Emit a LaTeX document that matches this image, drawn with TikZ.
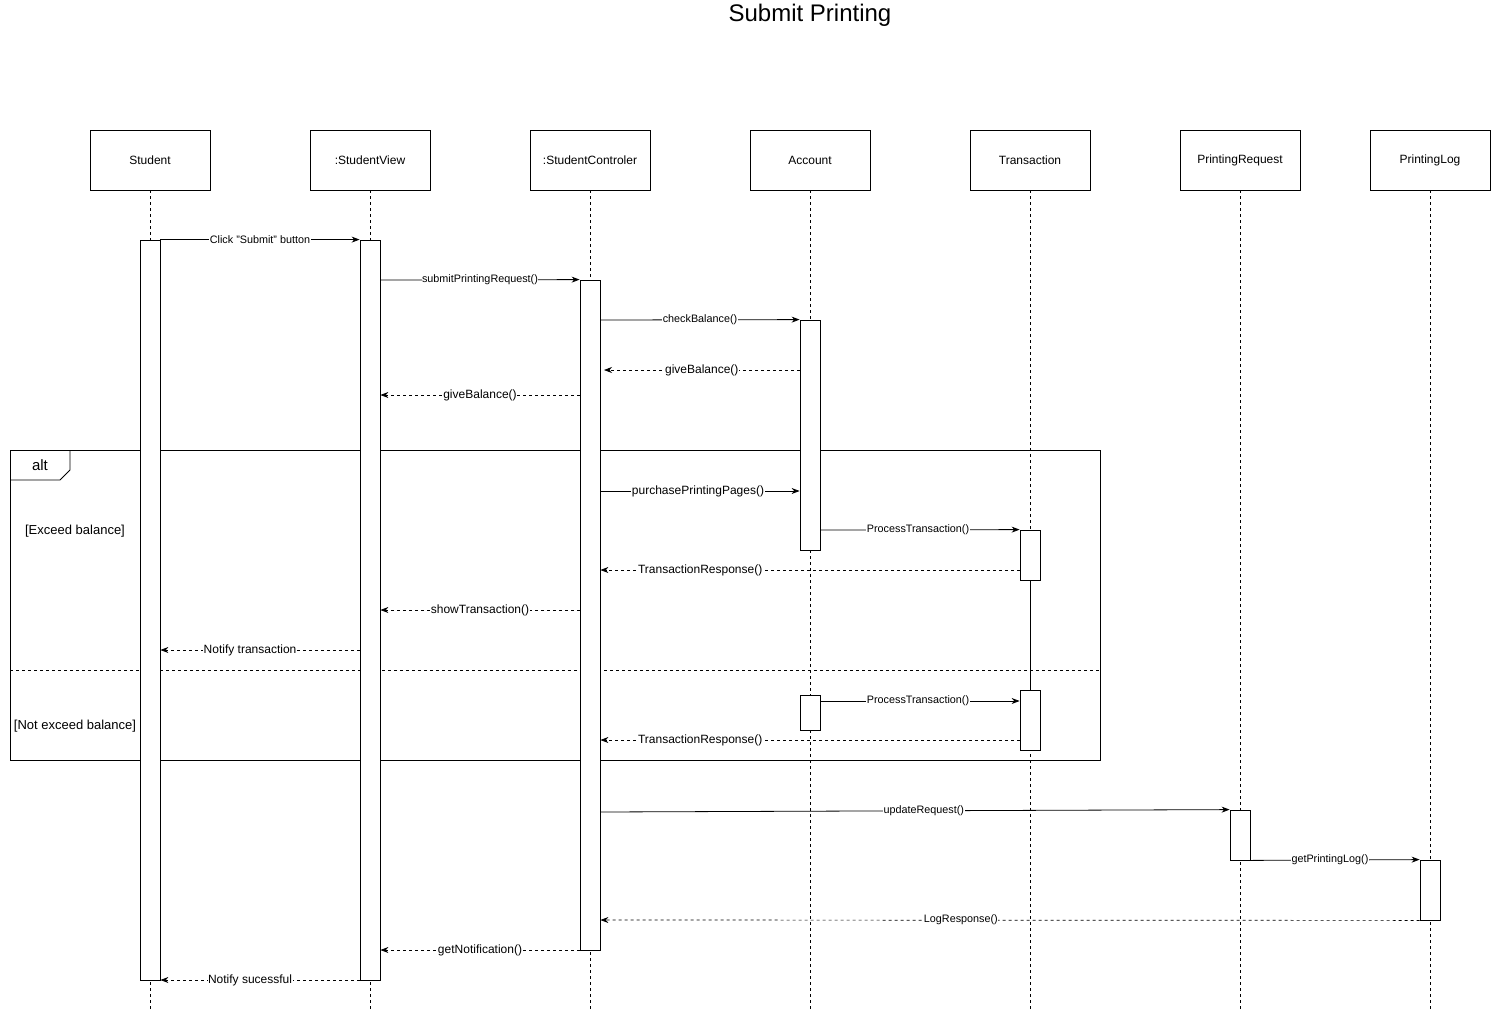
\documentclass[tikz,border=0pt]{standalone}
\usepackage{fontspec}
\setmainfont{Liberation Sans}
\usetikzlibrary{arrows.meta}
\tikzset{
  head/.style={draw, line width=0.8pt, minimum width=120pt, minimum height=60pt, inner sep=0pt, font=\fontsize{12}{14}\selectfont},
  act/.style={draw, fill=white, line width=0.8pt, minimum width=20pt, inner sep=0pt},
  life/.style={line width=0.7pt, dash pattern=on 3pt off 3pt},
  msg/.style={line width=0.8pt, -{Stealth[length=8pt,width=6pt]}},
  ret/.style={line width=0.7pt, dash pattern=on 3pt off 3pt, -{Stealth[length=8pt,width=6pt]}},
  lbl/.style={fill=white, inner sep=0.5pt, font=\fontsize{12}{14}\selectfont},
  slbl/.style={fill=white, inner sep=0.5pt, font=\fontsize{10.8}{12}\selectfont},
  guard/.style={font=\fontsize{13}{15}\selectfont},
  frm/.style={line width=0.8pt}
}
\begin{document}
\begin{tikzpicture}[x=1pt,y=-1pt]
\useasboundingbox (0,0) rectangle (1491,1012);
% title
\node[font=\fontsize{24}{28}\selectfont] (title) at (810,15) {Submit Printing};
% alt frame
\draw[frm] (10,450) rectangle (1100,760);
\draw[frm] (10,480) -- (60,480) -- (70,470) -- (70,450);
\node[font=\fontsize{15}{18}\selectfont] (alt) at (40,465) {alt};
\draw[life] (10,670) -- (1100,670);
\node[guard] (g1) at (75,531) {[Exceed balance]};
\node[guard] (g2) at (75,726) {[Not exceed balance]};
% headers
\node[head] (stu) at (150,160) {Student};
\node[head] (sv) at (370,160) {:StudentView};
\node[head] (sc) at (590,160) {:StudentControler};
\node[head] (acc) at (810,160) {Account};
\node[head] (tr) at (1030,160) {Transaction};
\node[head] (pr) at (1240,160) {PrintingRequest};
\node[head] (pl) at (1430,160) {PrintingLog};
% lifelines
\foreach \n in {stu,sv,sc,acc,tr,pr,pl}{
  \draw[life] (\n.south) -- (\n.south |- 0,1010);
}
\draw[line width=0.7pt] (1030,580) -- (1030,690);
% activations
\node[act, minimum height=740pt] (a1) at (150,610) {};
\node[act, minimum height=740pt] (a2) at (370,610) {};
\node[act, minimum height=670pt] (a3) at (590,615) {};
\node[act, minimum height=230pt] (a4) at (810,435) {};
\node[act, minimum height=35pt] (a4b) at (810,712.5) {};
\node[act, minimum height=50pt] (a5) at (1030,555) {};
\node[act, minimum height=60pt] (a5b) at (1030,720) {};
\node[act, minimum height=50pt] (a6) at (1240,835) {};
\node[act, minimum height=60pt] (a7) at (1430,890) {};
% messages
\draw[msg] (a1.north east) -- node[slbl,pos=0.5]{Click "Submit" button} (a2.north west);
\draw[msg] (a2.east |- 0,280) -- node[slbl,pos=0.5]{submitPrintingRequest()} (a3.north west);
\draw[msg] (a3.east |- 0,320) -- node[slbl,pos=0.5]{checkBalance()} (a4.north west);
\draw[ret] (a4.west |- 0,370) -- node[lbl,pos=0.5]{giveBalance()} (604,370);
\draw[ret] (a3.west |- 0,395) -- node[lbl,pos=0.5]{giveBalance()} (a2.east |- 0,395);
\draw[msg] (a3.east |- 0,491) -- node[lbl,pos=0.49]{purchasePrintingPages()} (a4.west |- 0,491);
\draw[msg] (a4.east |- 0,530) -- node[slbl,pos=0.49]{ProcessTransaction()} (a5.north west);
\draw[ret] (a5.west |- 0,570) -- node[lbl,pos=0.762]{TransactionResponse()} (a3.east |- 0,570);
\draw[ret] (a3.west |- 0,610) -- node[lbl,pos=0.5]{showTransaction()} (a2.east |- 0,610);
\draw[ret] (a2.west |- 0,650) -- node[lbl,pos=0.55]{Notify transaction} (a1.east |- 0,650);
\draw[msg] (a4b.east |- 0,701) -- node[slbl,pos=0.49]{ProcessTransaction()} (a5b.west |- 0,701);
\draw[ret] (a5b.west |- 0,740) -- node[lbl,pos=0.762]{TransactionResponse()} (a3.east |- 0,740);
\draw[msg] (a3.east |- 0,812) -- node[slbl,pos=0.514]{updateRequest()} (a6.north west);
\draw[msg] (a6.south east) -- node[slbl,pos=0.47]{getPrintingLog()} (a7.north west);
\draw[ret] (a7.south west) -- node[slbl,pos=0.56]{LogResponse()} (a3.east |- 0,920);
\draw[ret] (a3.west |- 0,950) -- node[lbl,pos=0.5]{getNotification()} (a2.east |- 0,950);
\draw[ret] (a2.west |- 0,980) -- node[lbl,pos=0.55]{Notify sucessful} (a1.east |- 0,980);
\end{tikzpicture}
\end{document}
